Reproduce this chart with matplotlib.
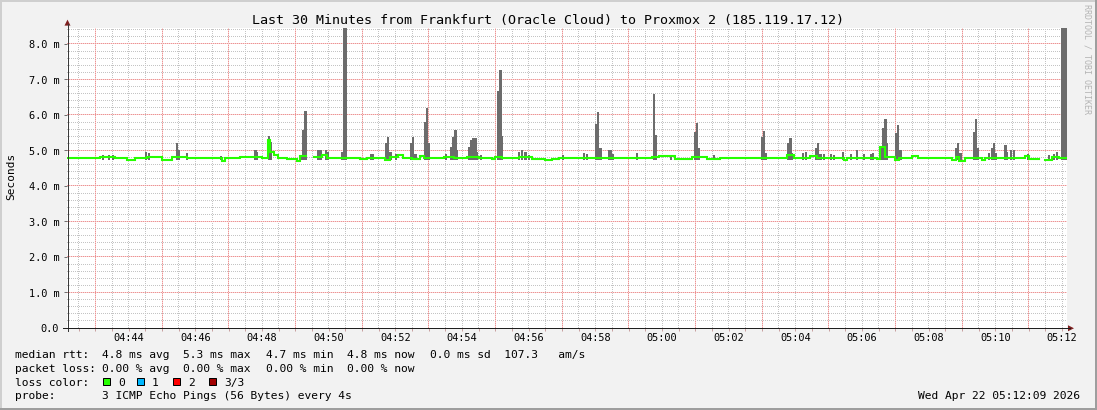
import numpy as np
import matplotlib
matplotlib.use("Agg")
import matplotlib.pyplot as plt
from matplotlib.patches import Rectangle, Polygon
from matplotlib.colors import to_rgba

plt.rcParams['font.family'] = ['DejaVu Sans Mono', 'DejaVu Sans']

W, H, DPI = 1097, 410, 100
FW, FH = W + 0.2, H + 0.2   # guard against float truncation of the canvas size

# ---------------- data ----------------
title = "Last 30 Minutes from Frankfurt (Oracle Cloud) to Proxmox 2 (185.119.17.12)"
y_label = "Seconds"
watermark = "RRDTOOL / TOBI OETIKER"
timestamp = "Wed Apr 22 05:12:09 2026"

window_s = 1800  # seconds since 04:42:09 .. 05:12:09
y_top = 8.45

x_tick_labels = ["04:44", "04:46", "04:48", "04:50", "04:52", "04:54", "04:56",
                 "04:58", "05:00", "05:02", "05:04", "05:06", "05:08", "05:10", "05:12"]
x_tick_s = [111, 231, 351, 471, 591, 711, 831, 951, 1071, 1191, 1311, 1431, 1551, 1671, 1791]

y_tick_vals = [0, 1, 2, 3, 4, 5, 6, 7, 8]
y_tick_labels = ["0.0", "1.0 m", "2.0 m", "3.0 m", "4.0 m", "5.0 m", "6.0 m", "7.0 m", "8.0 m"]

# median rtt (ms): change points (seconds since start) and values
nan = float("nan")
median_t_s = [0, 59, 86, 108, 122, 144, 171, 189, 216, 279, 284, 311, 351, 362, 365, 373,
              380, 396, 414, 419, 430, 445, 459, 468, 499, 527, 540, 563, 572, 581, 596,
              605, 621, 635, 643, 679, 697, 720, 742, 765, 770, 783, 814, 837, 860, 873,
              886, 927, 950, 1012, 1053, 1066, 1094, 1125, 1152, 1175, 1273, 1296, 1309,
              1337, 1350, 1399, 1404, 1458, 1463, 1472, 1490, 1498, 1521, 1532, 1593,
              1600, 1606, 1616, 1647, 1652, 1724, 1732, 1750, 1760, 1773, 1786]
median_ms = [4.80, 4.83, 4.80, 4.73, 4.80, 4.83, 4.73, 4.81, 4.78, 4.71, 4.79, 4.81, 4.78,
             5.30, 4.97, 4.87, 4.78, 4.76, 4.71, 4.85, nan, 4.83, 4.87, 4.80, 4.78, 4.76,
             4.78, 4.80, 4.73, 4.82, 4.86, 4.80, 4.76, 4.85, 4.80, 4.83, 4.78, 4.83, 4.78,
             4.76, 4.83, 4.78, 4.83, 4.76, 4.73, 4.77, 4.78, 4.80, 4.78, 4.80, 4.83, 4.84,
             4.76, 4.83, 4.76, 4.78, 4.80, 4.87, 4.80, 4.85, 4.79, 4.72, 4.80, 4.76, 5.10,
             4.83, 4.73, 4.80, 4.85, 4.78, 4.73, 4.83, 4.71, 4.80, 4.73, 4.80, 4.85, 4.76,
             nan, 4.74, 4.82, 4.80]

# smoke (spread of the 3 pings): start time (s) and top value (ms) of each 4 s step
smoke_t_s = [63, 74, 81, 140, 146, 196, 200, 214, 275, 337, 340, 362, 365, 419, 423, 427,
             450, 454, 464, 468, 493, 497, 500, 545, 549, 572, 576, 580, 590, 617, 621,
             625, 643, 646, 650, 680, 689, 693, 697, 700, 722, 725, 729, 733, 736, 743,
             774, 778, 781, 812, 817, 823, 830, 891, 929, 934, 950, 954, 958, 974, 977,
             981, 1024, 1055, 1058, 1085, 1129, 1132, 1136, 1163, 1249, 1253, 1256, 1296,
             1300, 1303, 1323, 1328, 1346, 1350, 1354, 1361, 1373, 1379, 1395, 1409, 1420,
             1433, 1445, 1449, 1463, 1467, 1471, 1474, 1490, 1494, 1498, 1598, 1602, 1606,
             1631, 1634, 1638, 1658, 1663, 1667, 1670, 1687, 1690, 1697, 1703, 1728, 1766,
             1775, 1780, 1789, 1793, 1796]
smoke_hi_ms = [4.87, 4.87, 4.86, 4.95, 4.92, 5.22, 5.00, 4.93, 4.85, 5.00, 4.95, 5.40, 5.25,
               4.88, 5.58, 6.12, 5.00, 5.00, 5.00, 4.95, 4.95, 9.00, 9.00, 4.90, 4.90, 5.22,
               5.37, 4.95, 4.90, 5.22, 5.37, 4.90, 5.80, 6.20, 5.20, 4.90, 5.10, 5.39, 5.58,
               5.00, 5.10, 5.30, 5.35, 5.35, 4.95, 4.87, 6.68, 7.27, 5.40, 4.95, 5.00, 4.95,
               4.88, 4.87, 4.93, 4.90, 5.75, 6.08, 5.07, 5.00, 5.00, 4.90, 4.93, 6.59, 5.44,
               4.87, 5.53, 5.78, 5.07, 4.87, 5.39, 5.55, 4.93, 5.22, 5.35, 4.93, 4.93, 4.96,
               5.07, 5.20, 4.90, 4.90, 4.90, 4.88, 4.95, 4.90, 5.00, 4.90, 4.90, 4.92, 5.07,
               5.63, 5.88, 5.20, 5.49, 5.72, 5.00, 5.08, 5.22, 4.93, 5.53, 5.88, 5.07, 4.93,
               5.07, 5.20, 4.93, 5.15, 4.95, 5.00, 5.00, 4.90, 4.88, 4.90, 4.95, 9.00, 9.00,
               9.00]
smoke_lo_ms = 4.72

legend_row1 = ["median rtt:", "4.8 ms avg", "5.3 ms max", "4.7 ms min", "4.8 ms now",
               "0.0 ms sd  107.3   am/s"]
legend_row2 = ["packet loss:", "0.00 % avg", "0.00 % max", "0.00 % min", "0.00 % now"]
loss_labels = ["0", "1", "2", "3/3"]
loss_colors = ["#26ff00", "#00b8ff", "#ff0000", "#a10000"]
probe_text = ["probe:", "3 ICMP Echo Pings (56 Bytes) every 4s"]

# ---------------- figure ----------------
BG = "#f2f2f2"
AX_L, AX_B, AX_W, AX_H = 67, 82, 1000, 300
fig = plt.figure(figsize=(FW / DPI, FH / DPI), dpi=DPI, facecolor=BG)
ax = fig.add_axes([AX_L / FW, AX_B / FH, AX_W / FW, AX_H / FH])
ax.patch.set_visible(False)
ax.set_xlim(0, window_s)
ax.set_ylim(0, y_top)
for s in ax.spines.values():
    s.set_visible(False)

PX = 0.72  # one pixel in points
MAJ_ON = to_rgba("#ec9494")
MAJ_OFF = to_rgba("#f8d4d4")
MIN_ON = to_rgba("#c4c4c4")

# white canvas with dotted grid, placed pixel-exact
grid_img = np.ones((AX_H, AX_W, 4))
grid_s = np.arange(21, window_s, 30)
grid_v = [k * 0.2 for k in range(1, 43)]
for pass_major in (False, True):
    for t in grid_s:
        major = ((int(t) - 51) % 120) == 0
        if major != pass_major:
            continue
        c = int(np.floor(t / window_s * AX_W))
        if major:
            grid_img[0::2, c] = MAJ_OFF
            grid_img[1::2, c] = MAJ_ON
        else:
            grid_img[1::2, c] = MIN_ON
    for k, v in enumerate(grid_v, start=1):
        major = (k % 5) == 0
        if major != pass_major:
            continue
        r = int(np.floor((y_top - v) / y_top * AX_H))
        if major:
            grid_img[r, 1::2] = MAJ_OFF
            grid_img[r, 0::2] = MAJ_ON
        else:
            grid_img[r, 0::2] = MIN_ON
fig.figimage(grid_img, xo=AX_L, yo=AX_B, origin="upper", zorder=-1)

# smoke
hi = np.array(smoke_hi_ms)
ax.bar(smoke_t_s, hi - smoke_lo_ms, bottom=smoke_lo_ms, width=4.2, align="edge",
       color="#6c6c6c", linewidth=0, antialiased=False, zorder=3)

# median line
tt = np.array(median_t_s + [window_s], dtype=float)
vv = np.array(median_ms + [median_ms[-1]], dtype=float)
ax.plot(tt, vv, drawstyle="steps-post", color="#26ff00", lw=1.5, zorder=4,
        solid_joinstyle="miter")

# ticks
ax.set_xticks(x_tick_s)
ax.set_xticklabels(x_tick_labels)
ax.set_xticks(grid_s, minor=True)
ax.tick_params(axis="x", which="both", length=2.2, width=PX, color="#c8a0a0",
               pad=1.2, labelsize=7.4)
ax.set_yticks(y_tick_vals)
ax.set_yticklabels(y_tick_labels)
ax.tick_params(axis="y", which="both", length=2.2, width=PX, color="#707070",
               pad=3.4, labelsize=7.4)

# ---------------- overlay (pixel coords, y from top) ----------------
ov = fig.add_axes([0, 0, 1, 1], zorder=5)
ov.set_xlim(0, FW)
ov.set_ylim(FH, 0.2)
ov.axis("off")
ov.patch.set_alpha(0)

# frame shading
ov.plot([0, W], [1.0, 1.0], color="#cfcfcf", lw=2 * PX)
ov.plot([1.0, 1.0], [0, H], color="#cfcfcf", lw=2 * PX)
ov.plot([0, W], [H - 1.2, H - 1.2], color="#9e9e9e", lw=3 * PX)
ov.plot([W - 1.2, W - 1.2], [0, H], color="#9e9e9e", lw=3 * PX)

# axes lines + arrows
ov.plot([67.5, 67.5], [331, 24], color="#3a3a3a", lw=PX)
ov.plot([63, 1070], [328.5, 328.5], color="#1f1f1f", lw=PX)
ov.add_patch(Polygon([(64.5, 26), (70.5, 26), (67.5, 20)], closed=True,
                     facecolor="#7f1f1f", edgecolor="none"))
ov.add_patch(Polygon([(1068, 325.5), (1068, 331.5), (1074, 328.5)], closed=True,
                     facecolor="#7f1f1f", edgecolor="none"))

# texts
ov.text(548, 24, title, ha="center", va="baseline", fontsize=9.6, color="#000000")
ov.text(11, 176, y_label, rotation=90, ha="center", va="center", fontsize=8,
        color="#000000")
ov.text(1087, 4, watermark, rotation=270, ha="center", va="top", fontsize=6,
        color="#b4b4b4")

FS = 8.1
row_y = [358.5, 372.0, 385.8, 399.3]
col_x = [15, 101.7, 183.3, 265.7, 347.0, 430.0]
for txt, x in zip(legend_row1, col_x):
    ov.text(x, row_y[0], txt, ha="left", va="baseline", fontsize=FS)
for txt, x in zip(legend_row2, col_x):
    ov.text(x, row_y[1], txt, ha="left", va="baseline", fontsize=FS)
ov.text(15, row_y[2], "loss color:", ha="left", va="baseline", fontsize=FS)
sq_x = [103, 137, 173, 209]
for lab, col, x in zip(loss_labels, loss_colors, sq_x):
    ov.add_patch(Rectangle((x, 378.5), 7, 7, facecolor=col, edgecolor="#000000", lw=PX))
    ov.text(x + 15, row_y[2], lab, ha="left", va="baseline", fontsize=FS)
ov.text(15, row_y[3], probe_text[0], ha="left", va="baseline", fontsize=FS)
ov.text(101.7, row_y[3], probe_text[1], ha="left", va="baseline", fontsize=FS)
ov.text(1080, row_y[3], timestamp, ha="right", va="baseline", fontsize=FS)

fig.savefig("out.png", dpi=DPI, facecolor=BG)
